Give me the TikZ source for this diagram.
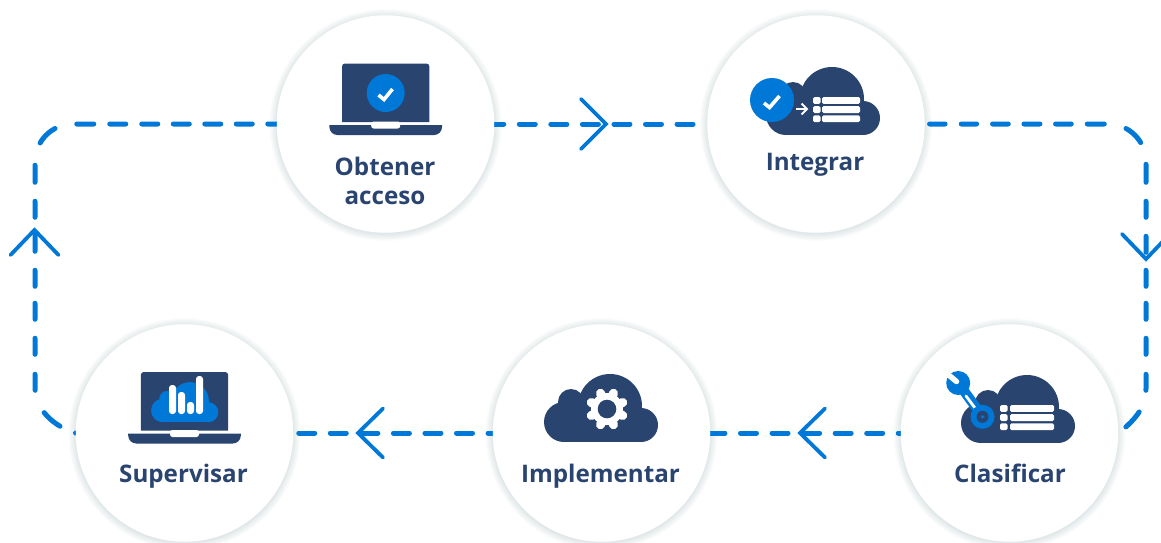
\documentclass[tikz,border=0pt]{standalone}
\usepackage{fontspec}
\setmainfont{Open Sans}
\usetikzlibrary{calc}
\pgfdeclarelayer{back}
\pgfsetlayers{back,main}
\definecolor{navy}{HTML}{2A4470}
\definecolor{flowblue}{HTML}{0078D7}
\tikzset{
  x=1pt,y=-1pt,
  flow/.style={draw=flowblue,line width=5pt,line cap=round,dash pattern=on 16pt off 15.55pt},
  chev/.style={draw=flowblue,line width=3.8pt,line cap=round,line join=miter},
  disc/.style={circle,fill=white,minimum size=217.5pt,inner sep=0pt},
  lab/.style={font=\fontsize{24.2}{29}\selectfont\bfseries,text=navy,align=center,inner sep=0pt,anchor=base},
  tick/.style={draw=white,line width=3.6pt,line cap=butt,line join=miter},
  row/.style={fill=white,rounded corners=1.5pt},
}
% soft shadow round a disc
\newcommand{\softshadow}[2]{%
  \foreach \rr in {116,115,...,109}{\fill[navy,opacity=0.016] (#1,#2+1) circle[radius=\rr];}}
% cloud: main-lobe centre, scale, colour
\newcommand{\cloudicon}[4]{%
  \begin{scope}[shift={(#1,#2)},scale=#3]
  \fill[#4] (0,0) circle[radius=32];
  \fill[#4] (31,19) circle[radius=17];
  \fill[#4] (-46,16) circle[radius=20];
  \fill[#4] (-39,-4) circle[radius=13];
  \fill[#4] (-46,0) rectangle (31,36);
  \end{scope}}
% laptop: screen centre x, screen top y
\newcommand{\laptopicon}[2]{%
  \begin{scope}[shift={(#1,#2)}]
  \fill[navy] (-43.7,58.5) [rounded corners=3pt] -- (-43.7,0) -- (43.7,0) [sharp corners] -- (43.7,58.5) -- cycle;
  \fill[navy] (-56.3,61.5) -- (56.3,61.5) [rounded corners=8pt] -- (56.3,71.5) -- (-56.3,71.5) [sharp corners] -- cycle;
  \fill[white,rounded corners=2.5pt] (-14.5,58) rectangle (14.5,65);
  \end{scope}}
% table rows
\newcommand{\tablerows}[4]{% small x0, big x0, big x1, top y
  \foreach \dy in {0,9.2,18.4}{
    \fill[row] (#1,#4+\dy) rectangle (#1+7.5,#4+\dy+6.8);
    \fill[row] (#2,#4+\dy) rectangle (#3,#4+\dy+6.8);}}
\begin{document}
\begin{tikzpicture}
\useasboundingbox (0,0) rectangle (1161,542);
\node[disc] (ob) at (385.5,124) {};
\node[disc] (in) at (816,124) {};
\node[disc] (cl) at (1009.5,433) {};
\node[disc] (im) at (601.5,433) {};
\node[disc] (su) at (184.5,433) {};
% connector corners
\coordinate (cNE) at (1146,124);
\coordinate (eE) at (1146,388);
\coordinate (cNW) at (35,124);
\coordinate (eW) at (35,388);
\coordinate (t1) at (606,124);
\coordinate (t2) at (1146,259);
\coordinate (t3) at (800,433);
\coordinate (t4) at (358,433);
\coordinate (t5) at (34.5,230);
\begin{pgfonlayer}{back}
\fill[white] (0,0) rectangle (1161,542);
\softshadow{385.5}{124}\softshadow{816}{124}\softshadow{1009.5}{433}\softshadow{601.5}{433}\softshadow{184.5}{433}
\draw[flow,dash phase=6.7pt] (ob.east) -- (in.west);
\draw[flow,dash pattern=on 16pt off 4.6pt on 15.5pt off 16.2pt on 15.3pt off 16pt on 15.7pt off 15.7pt on 16pt off 15.6pt on 15.7pt off 16pt on 17pt off 22.5pt on 20.5pt off 22.7pt on 18pt off 19pt on 16pt off 19pt on 16pt off 18pt on 16pt off 17pt on 16pt off 19pt on 16pt off 20pt on 16pt off 23pt on 20pt off 40pt,dash phase=16pt]
  (in.east) [rounded corners=38pt] -- (cNE) [sharp corners] -- (eE) .. controls (1146,405) and (1138,418) .. (cl.east);
\draw[flow,dash phase=13.7pt] (cl.west) -- (im.east);
\draw[flow,dash phase=11.5pt] (im.west) -- (su.east);
\draw[flow,dash pattern=on 0.01pt off 17pt on 21pt off 24.5pt on 16pt off 20pt on 16pt off 19pt on 16pt off 17pt on 16pt off 19pt on 17pt off 17pt on 16pt off 19pt on 17pt off 23.2pt on 21pt off 22.5pt on 17pt off 16pt on 16pt off 16pt on 16pt off 15.5pt on 16pt off 15.5pt on 16pt off 15.5pt on 16pt off 15.5pt on 16pt off 15.5pt on 16pt off 40pt]
  (su.west) .. controls (55,427) and (35,410) .. (eW) [rounded corners=38pt] -- (cNW) -- (ob.west);
\draw[chev] ($(t1)+(-25,-25)$) -- (t1) -- ($(t1)+(-25,25)$);
\draw[chev] ($(t2)+(-24,-25)$) -- (t2) -- ($(t2)+(24,-25)$);
\draw[chev] ($(t3)+(25,-24.5)$) -- (t3) -- ($(t3)+(25,24.5)$);
\draw[chev] ($(t4)+(25,-24.5)$) -- (t4) -- ($(t4)+(25,24.5)$);
\draw[chev] ($(t5)+(-24,25)$) -- (t5) -- ($(t5)+(24,25)$);
\end{pgfonlayer}
% Obtener acceso icon
\laptopicon{385.7}{63.5}
\fill[flowblue] (385.7,93) circle[radius=19];
\draw[tick] (378.5,95) -- (384,99.5) -- (392.5,89);
\node[lab] (tob) at (385,175) {Obtener};
\node[lab] (tac) at (385,204) {acceso};
% Integrar icon
\cloudicon{832}{99}{1}{navy}
\fill[flowblue] (772,100) circle[radius=22];
\draw[tick] (764,103) -- (769.5,107.5) -- (779.5,96);
\draw[draw=white,line width=2pt] (796,109) -- (806,109);
\draw[draw=white,line width=2pt] (801.5,103.5) -- (807,109) -- (801.5,114.5);
\tablerows{813}{822}{860}{97}
\node[lab] (tin) at (815,170) {Integrar};
% Clasificar icon
\cloudicon{1027}{407}{1}{navy}
\tablerows{1000}{1010}{1054}{405}
\draw[flowblue,line width=10pt] (964,391) -- (980,413);
\draw[white,line width=2.8pt,line cap=round] (966,396) -- (975,408);
\fill[flowblue] (958.2,383) circle[radius=12];
\draw[white,line width=5.5pt,line cap=round] (945,372) -- (956.5,381.5);
\fill[flowblue] (982.5,416.8) circle[radius=12];
\fill[navy] (982.5,416.8) circle[radius=6];
\fill[flowblue] (982.5,416.8) circle[radius=1.8];
\node[lab] (tcl) at (1010,482.7) {Clasificar};
% Implementar icon
\cloudicon{610}{406}{1}{navy}
\foreach \a in {0,45,...,315}{\draw[white,line width=9pt,line cap=round] (607,409) ++(\a+22.5:12) -- ++(\a+22.5:5);}
\fill[white] (607,409) circle[radius=16];
\fill[navy] (607,409) circle[radius=9.3];
\node[lab] (tim) at (600.5,482.7) {Implementar};
% Supervisar icon
\laptopicon{184.5}{372}
\cloudicon{190}{401}{0.59}{flowblue}
\fill[white,rounded corners=3pt] (169,385) rectangle (176,414);
\fill[white,rounded corners=3pt] (178,392) rectangle (185,414);
\fill[white,rounded corners=3pt] (187,402) rectangle (194,414);
\fill[white,rounded corners=3pt] (196,376) rectangle (203,414);
\node[lab] (tsu) at (183.5,482.7) {Supervisar};
\end{tikzpicture}
\end{document}
